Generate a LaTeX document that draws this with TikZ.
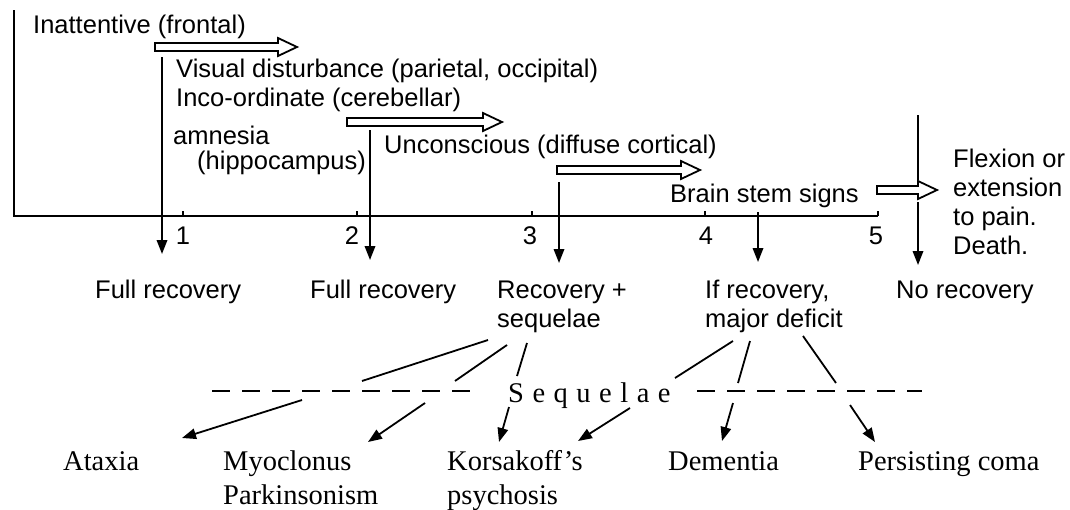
\documentclass[tikz,border=0pt]{standalone}
\usepackage{fontspec}
\setmainfont{Liberation Serif}
\newfontfamily\sansf{Liberation Sans}
\usetikzlibrary{arrows.meta}
\newcommand{\lsp}{\kern8.5pt\relax}
\newcommand{\twolines}[2]{\begin{tabular}[t]{@{}l@{}}#1\\#2\end{tabular}}
\newcommand{\hollowarrow}[3]{%
  \draw[hollow] (#1,#3-4) -- (#2-19,#3-4) -- (#2-19,#3-9) -- (#2,#3)
    -- (#2-19,#3+9) -- (#2-19,#3+4) -- (#1,#3+4) -- cycle;}
\begin{document}
\begin{tikzpicture}[x=1pt,y=-1pt,
  sans/.style={font=\sansf\fontsize{25.5}{29}\selectfont, inner sep=0pt, anchor=base west},
  serif/.style={font=\fontsize{28.5}{34}\selectfont, inner sep=0pt, anchor=base west},
  ticklbl/.style={font=\sansf\fontsize{25.5}{29}\selectfont, inner sep=0pt, anchor=base},
  axisline/.style={line width=2.3pt},
  conn/.style={line width=1.8pt},
  arr/.style={conn, -{Triangle[length=14pt,width=10.5pt]}},
  hollow/.style={line width=1.8pt, line join=miter},
  seqdash/.style={line width=1.9pt, dash pattern=on 18pt off 12pt}]
\useasboundingbox (0,0) rectangle (1070,509);

% axes
\draw[axisline] (14,10) -- (14,216) -- (878,216);
\foreach \x in {183,357,532,705,878} \draw[axisline] (\x,216) -- (\x,211);
\node[ticklbl] (t1) at (183,244) {1};
\node[ticklbl] (t2) at (352,244) {2};
\node[ticklbl] (t3) at (530,244) {3};
\node[ticklbl] (t4) at (706,244) {4};
\node[ticklbl] (t5) at (876,244) {5};

% stage texts
\node[sans] (inatt) at (33,33) {Inattentive (frontal)};
\node[sans] (visual) at (176,77) {Visual disturbance (parietal, occipital)};
\node[sans] (incoord) at (176,106) {Inco-ordinate (cerebellar)};
\node[sans] (amnesia) at (173,144) {amnesia};
\node[sans] (hippo) at (197,169) {(hippocampus)};
\node[sans] (uncons) at (384,153) {Unconscious (diffuse cortical)};
\node[sans] (brain) at (670,202) {Brain stem signs};
\node[sans] (flex) at (953,167) {\begin{tabular}[t]{@{}l@{}}Flexion or\\extension\\to pain.\\Death.\end{tabular}};

% hollow arrows
\hollowarrow{155}{297}{47}
\hollowarrow{347}{502}{122}
\hollowarrow{557}{700}{170}
\hollowarrow{877}{937}{190}

% outcomes
\node[sans] (full1) at (95,298) {Full recovery};
\node[sans] (full2) at (310,298) {Full recovery};
\node[sans] (rec) at (497,298) {\twolines{Recovery +}{sequelae}};
\node[sans] (ifrec) at (705,298) {\twolines{If recovery,}{major deficit}};
\node[sans] (norec) at (896,298) {No recovery};

% vertical arrows
\coordinate (v1a) at (162,57);  \coordinate (v1b) at (162,254);
\coordinate (v2a) at (370,130); \coordinate (v2b) at (370,260);
\coordinate (v3a) at (559,182); \coordinate (v3b) at (559,263);
\coordinate (v4a) at (758,212); \coordinate (v4b) at (758,262);
\coordinate (v5a) at (918,115); \coordinate (v5m) at (918,180);
\coordinate (v5n) at (918,202); \coordinate (v5b) at (918,265);
\draw[arr] (v1a) -- (v1b);
\draw[arr] (v2a) -- (v2b);
\draw[arr] (v3a) -- (v3b);
\draw[arr] (v4a) -- (v4b);
\draw[conn] (v5a) -- (v5m);
\draw[arr] (v5n) -- (v5b);

% sequelae line
\node[serif] (seq) at (508,402) {S\lsp e\lsp q\lsp u\lsp e\lsp l\lsp a\lsp e};
\coordinate (dl1) at (212,391); \coordinate (dl2) at (480,391);
\coordinate (dr1) at (697,391); \coordinate (dr2) at (922,391);
\draw[seqdash] (dl1) -- (dl2);
\draw[seqdash] (dr1) -- (dr2);

% lines into the sequelae line
\coordinate (a1) at (488,340); \coordinate (a1e) at (362,381);
\coordinate (a2) at (507,345); \coordinate (a2e) at (455,381);
\coordinate (a3) at (527,343); \coordinate (a3e) at (517,376);
\coordinate (b1) at (733,341); \coordinate (b1e) at (675,378);
\coordinate (b2) at (750,341); \coordinate (b2e) at (738,383);
\coordinate (b3) at (803,336); \coordinate (b3e) at (836,383);
\draw[conn] (a1) -- (a1e);
\draw[conn] (a2) -- (a2e);
\draw[conn] (a3) -- (a3e);
\draw[conn] (b1) -- (b1e);
\draw[conn] (b2) -- (b2e);
\draw[conn] (b3) -- (b3e);

% sequelae outcomes
\node[serif] (ataxia) at (63,470) {Ataxia};
\node[serif] (myo) at (223,470) {\begin{tabular}[t]{@{}l@{}}Myoclonus\\Parkinsonism\end{tabular}};
\node[serif] (kors) at (447,470) {\begin{tabular}[t]{@{}l@{}}Korsakoff's\\psychosis\end{tabular}};
\node[serif] (dem) at (668,470) {Dementia};
\node[serif] (coma) at (858,470) {Persisting coma};

\coordinate (c1) at (302,400); \coordinate (c1e) at (182,438);
\coordinate (c2) at (425,403); \coordinate (c2e) at (368,442);
\coordinate (c3) at (509,407); \coordinate (c3e) at (499,442);
\coordinate (c4) at (630,408); \coordinate (c4e) at (578,441);
\coordinate (c5) at (733,403); \coordinate (c5e) at (722,441);
\coordinate (c6) at (850,405); \coordinate (c6e) at (875,442);
\draw[arr] (c1) -- (c1e);
\draw[arr] (c2) -- (c2e);
\draw[arr] (c3) -- (c3e);
\draw[arr] (c4) -- (c4e);
\draw[arr] (c5) -- (c5e);
\draw[arr] (c6) -- (c6e);
\end{tikzpicture}
\end{document}
